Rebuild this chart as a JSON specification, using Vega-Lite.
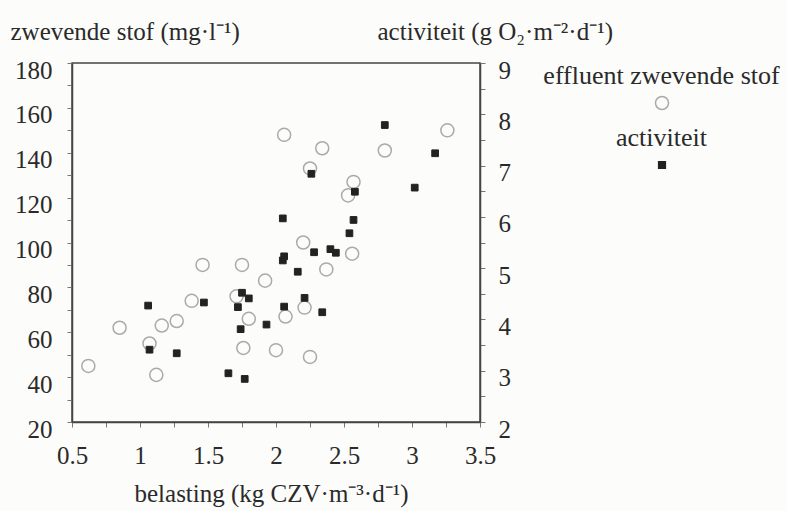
{
  "$schema": "https://vega.github.io/schema/vega-lite/v6.json",
  "width": 408,
  "height": 359,
  "autosize": {"type": "none"},
  "padding": {"left": 72, "top": 63, "right": 307, "bottom": 89},
  "background": "#fcfcfa",
  "config": {
    "font": "Liberation Serif",
    "view": {"stroke": "#444", "strokeWidth": 1.5},
    "style": {"guide-label": {"lineHeight": 53}},
    "axis": {
      "grid": false,
      "domainColor": "#444",
      "domainWidth": 1.5,
      "tickColor": "#777",
      "tickSize": 5,
      "labelFont": "Liberation Serif",
      "labelFontSize": 25,
      "labelColor": "#2a2a2a",
      "labelOverlap": false,
      "labelFlush": false,
      "titleFont": "Liberation Serif",
      "titleFontSize": 25,
      "titleFontWeight": "normal",
      "titleColor": "#2a2a2a"
    }
  },
  "data": {
    "values": [
      {"belasting": 0.62, "waarde": 45, "reeks": "effluent zwevende stof"},
      {"belasting": 0.85, "waarde": 62, "reeks": "effluent zwevende stof"},
      {"belasting": 1.07, "waarde": 55, "reeks": "effluent zwevende stof"},
      {"belasting": 1.12, "waarde": 41, "reeks": "effluent zwevende stof"},
      {"belasting": 1.16, "waarde": 63, "reeks": "effluent zwevende stof"},
      {"belasting": 1.27, "waarde": 65, "reeks": "effluent zwevende stof"},
      {"belasting": 1.38, "waarde": 74, "reeks": "effluent zwevende stof"},
      {"belasting": 1.46, "waarde": 90, "reeks": "effluent zwevende stof"},
      {"belasting": 1.71, "waarde": 76, "reeks": "effluent zwevende stof"},
      {"belasting": 1.75, "waarde": 90, "reeks": "effluent zwevende stof"},
      {"belasting": 1.76, "waarde": 53, "reeks": "effluent zwevende stof"},
      {"belasting": 1.8, "waarde": 66, "reeks": "effluent zwevende stof"},
      {"belasting": 1.92, "waarde": 83, "reeks": "effluent zwevende stof"},
      {"belasting": 2.0, "waarde": 52, "reeks": "effluent zwevende stof"},
      {"belasting": 2.07, "waarde": 67, "reeks": "effluent zwevende stof"},
      {"belasting": 2.06, "waarde": 148, "reeks": "effluent zwevende stof"},
      {"belasting": 2.2, "waarde": 100, "reeks": "effluent zwevende stof"},
      {"belasting": 2.21, "waarde": 71, "reeks": "effluent zwevende stof"},
      {"belasting": 2.25, "waarde": 49, "reeks": "effluent zwevende stof"},
      {"belasting": 2.25, "waarde": 133, "reeks": "effluent zwevende stof"},
      {"belasting": 2.34, "waarde": 142, "reeks": "effluent zwevende stof"},
      {"belasting": 2.37, "waarde": 88, "reeks": "effluent zwevende stof"},
      {"belasting": 2.53, "waarde": 121, "reeks": "effluent zwevende stof"},
      {"belasting": 2.56, "waarde": 95, "reeks": "effluent zwevende stof"},
      {"belasting": 2.57, "waarde": 127, "reeks": "effluent zwevende stof"},
      {"belasting": 2.8, "waarde": 141, "reeks": "effluent zwevende stof"},
      {"belasting": 3.26, "waarde": 150, "reeks": "effluent zwevende stof"},
      {"belasting": 1.06, "waarde": 4.27, "reeks": "activiteit"},
      {"belasting": 1.47, "waarde": 4.33, "reeks": "activiteit"},
      {"belasting": 1.75, "waarde": 4.52, "reeks": "activiteit"},
      {"belasting": 1.8, "waarde": 4.41, "reeks": "activiteit"},
      {"belasting": 1.72, "waarde": 4.24, "reeks": "activiteit"},
      {"belasting": 1.93, "waarde": 3.9, "reeks": "activiteit"},
      {"belasting": 1.74, "waarde": 3.81, "reeks": "activiteit"},
      {"belasting": 1.07, "waarde": 3.41, "reeks": "activiteit"},
      {"belasting": 1.27, "waarde": 3.34, "reeks": "activiteit"},
      {"belasting": 1.65, "waarde": 2.95, "reeks": "activiteit"},
      {"belasting": 1.77, "waarde": 2.84, "reeks": "activiteit"},
      {"belasting": 2.16, "waarde": 4.93, "reeks": "activiteit"},
      {"belasting": 2.21, "waarde": 4.42, "reeks": "activiteit"},
      {"belasting": 2.06, "waarde": 4.25, "reeks": "activiteit"},
      {"belasting": 2.34, "waarde": 4.14, "reeks": "activiteit"},
      {"belasting": 2.05, "waarde": 5.15, "reeks": "activiteit"},
      {"belasting": 2.06, "waarde": 5.23, "reeks": "activiteit"},
      {"belasting": 2.28, "waarde": 5.31, "reeks": "activiteit"},
      {"belasting": 2.4, "waarde": 5.37, "reeks": "activiteit"},
      {"belasting": 2.44, "waarde": 5.3, "reeks": "activiteit"},
      {"belasting": 2.54, "waarde": 5.68, "reeks": "activiteit"},
      {"belasting": 2.57, "waarde": 5.94, "reeks": "activiteit"},
      {"belasting": 2.05, "waarde": 5.97, "reeks": "activiteit"},
      {"belasting": 2.58, "waarde": 6.49, "reeks": "activiteit"},
      {"belasting": 2.26, "waarde": 6.84, "reeks": "activiteit"},
      {"belasting": 3.02, "waarde": 6.57, "reeks": "activiteit"},
      {"belasting": 3.17, "waarde": 7.24, "reeks": "activiteit"},
      {"belasting": 2.8, "waarde": 7.79, "reeks": "activiteit"}
    ]
  },
  "encoding": {
    "x": {
      "field": "belasting",
      "type": "quantitative",
      "scale": {"domain": [0.5, 3.5], "nice": false, "zero": false},
      "axis": {
        "values": [0.5, 0.75, 1, 1.25, 1.5, 1.75, 2, 2.25, 2.5, 2.75, 3, 3.25, 3.5],
        "labelExpr": "(datum.value * 2) % 1 == 0 ? toString(datum.value) : ''",
        "labelPadding": 16,
        "title": "belasting (kg CZV·m⁻³·d⁻¹)",
        "titleX": 199,
        "titleY": 71,
        "titleAnchor": "middle",
        "titleAlign": "center",
        "titleBaseline": "middle"
      }
    },
    "shape": {
      "field": "reeks",
      "type": "nominal",
      "scale": {"domain": ["effluent zwevende stof", "activiteit"], "range": ["circle", "square"]},
      "legend": {
        "title": null,
        "orient": "none",
        "legendX": 577,
        "legendY": 27,
        "padding": 0,
        "direction": "vertical",
        "labelFontSize": 26,
        "labelColor": "#2a2a2a",
        "labelAlign": "center",
        "labelBaseline": "line-bottom",
        "labelLimit": 0,
        "labelOffset": -13.5,
        "rowPadding": 12,
        "symbolStrokeWidth": 1.5
      }
    },
    "fill": {
      "field": "reeks",
      "type": "nominal",
      "scale": {"domain": ["effluent zwevende stof", "activiteit"], "range": ["transparent", "#222"]}
    },
    "stroke": {
      "field": "reeks",
      "type": "nominal",
      "scale": {"domain": ["effluent zwevende stof", "activiteit"], "range": ["#aaa", "#222"]}
    },
    "size": {
      "field": "reeks",
      "type": "nominal",
      "scale": {"domain": ["effluent zwevende stof", "activiteit"], "range": [170, 45]}
    }
  },
  "layer": [
    {
      "transform": [{"filter": "datum.reeks == 'effluent zwevende stof'"}],
      "mark": {"type": "point", "filled": true, "strokeWidth": 1.5, "opacity": 1},
      "encoding": {
        "y": {
          "field": "waarde",
          "type": "quantitative",
          "scale": {"domain": [20, 180], "nice": false, "zero": false},
          "axis": {
            "orient": "left",
            "values": [20, 30, 40, 50, 60, 70, 80, 90, 100, 110, 120, 130, 140, 150, 160, 170, 180],
            "labelExpr": "datum.value % 20 == 0 ? toString(datum.value) : ''",
            "labelPadding": 15,
            "labelOffset": 7,
            "title": "zwevende stof (mg·l⁻¹)",
            "titleAngle": 0,
            "titleAlign": "left",
            "titleBaseline": "middle",
            "titleX": -62,
            "titleY": -32
          }
        }
      }
    },
    {
      "transform": [{"filter": "datum.reeks == 'activiteit'"}],
      "mark": {"type": "point", "filled": true, "strokeWidth": 1, "opacity": 1},
      "encoding": {
        "y": {
          "field": "waarde",
          "type": "quantitative",
          "scale": {"domain": [2, 9], "nice": false, "zero": false},
          "axis": {
            "orient": "right",
            "values": [2, 2.5, 3, 3.5, 4, 4.5, 5, 5.5, 6, 6.5, 7, 7.5, 8, 8.5, 9],
            "labelExpr": "datum.value % 1 == 0 ? toString(datum.value) : ''",
            "labelPadding": 13,
            "labelOffset": 7,
            "title": "activiteit (g O₂·m⁻²·d⁻¹)",
            "titleAngle": 0,
            "titleAlign": "left",
            "titleBaseline": "middle",
            "titleX": -103,
            "titleY": -32
          }
        }
      }
    }
  ],
  "resolve": {"scale": {"y": "independent"}}
}
